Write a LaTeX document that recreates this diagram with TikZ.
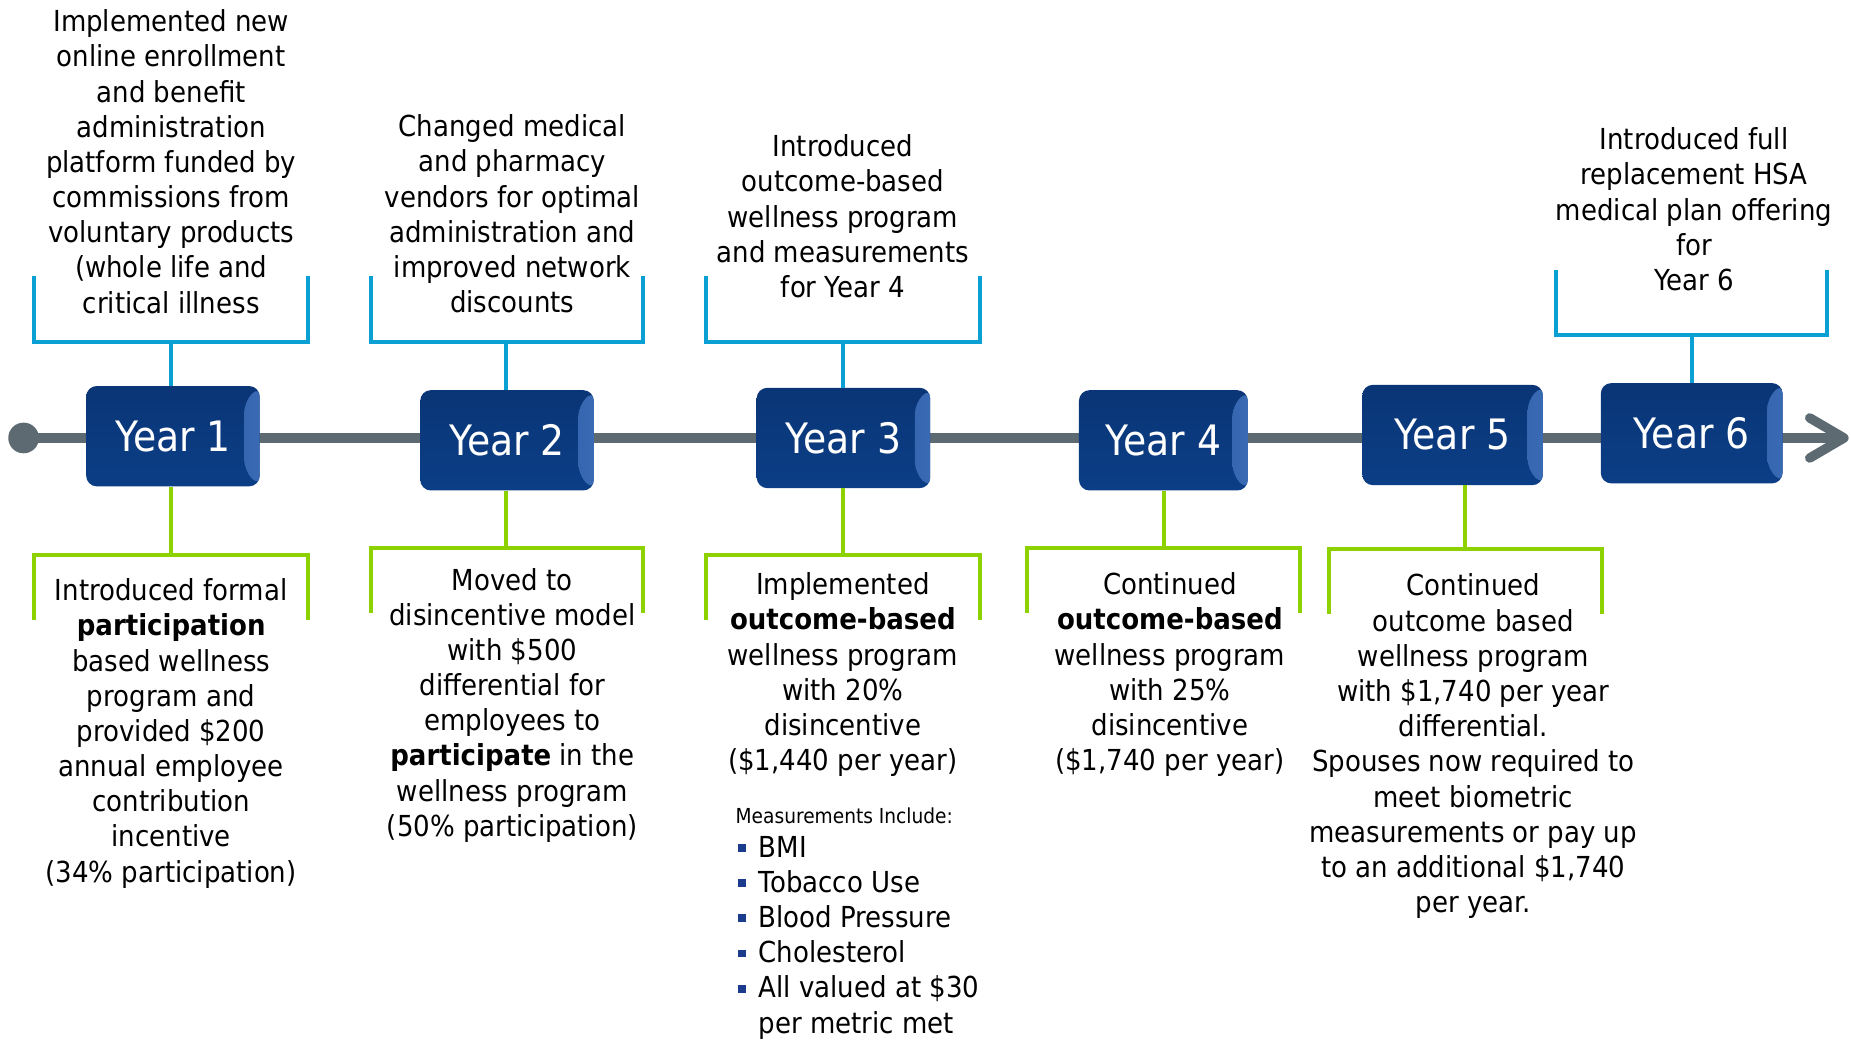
\documentclass[tikz,border=0pt]{standalone}
\usepackage{fontspec}
\setmainfont{DejaVu Sans}[FakeStretch=0.9]
\usetikzlibrary{calc}
\definecolor{navy}{HTML}{0A3A80}
\definecolor{navytop}{HTML}{0A3576}
\definecolor{navybot}{HTML}{0B3E86}
\definecolor{bevel}{HTML}{3A6AB4}
\definecolor{tlgray}{HTML}{5E6A72}
\definecolor{bblue}{HTML}{0AA0D4}
\definecolor{bgreen}{HTML}{8DD100}
\definecolor{bullet}{HTML}{1B3C8C}
\newcommand{\sqb}{{\color{bullet}\rule[4.5pt]{6.5pt}{6.5pt}}\hspace{11pt}}
\begin{document}
\begin{tikzpicture}[x=1pt,y=-1pt,
  yearbox/.style={rounded corners=9pt, minimum width=147pt, minimum height=85pt,
    top color=navytop, bottom color=navybot, text=white, inner sep=0pt,
    font=\fontsize{35.5}{40}\selectfont,
    path picture={\shade[left color=navybot, right color=bevel]
      (path picture bounding box.north east) -- ++(-13pt,-13pt)
      -- ($(path picture bounding box.south east)+(-13pt,13pt)$)
      -- (path picture bounding box.south east) -- cycle;}},
  txt/.style={font=\fontsize{24.5}{29.8}\selectfont, align=center, inner sep=0pt, anchor=north},
  bbr/.style={draw=bblue, line width=3.3pt},
  gbr/.style={draw=bgreen, line width=3.3pt},
  tl/.style={draw=tlgray, line width=8.5pt},
  chev/.style={draw=tlgray, line width=8pt, line cap=round, line join=round}]
\useasboundingbox (0,0) rectangle (1568,883);

% timeline
\node[circle, fill=tlgray, minimum size=26pt, inner sep=0pt] (dot) at (20,371) {};
\coordinate (tip) at (1562,371);
\draw[tl] (dot.center) -- ($(tip)+(-4,0)$);
\draw[chev] ($(tip)+(-29,-17)$) -- (tip) -- ($(tip)+(-29,17)$);

% bracket stem coordinates
\coordinate (b1) at (145,290);
\coordinate (b2) at (429,290);
\coordinate (b3) at (714,290);
\coordinate (b6) at (1433,284);
\coordinate (g1) at (145,470);
\coordinate (g2) at (429,464);
\coordinate (g3) at (714,470);
\coordinate (g4) at (986,464);
\coordinate (g5) at (1241,465);

% year boxes
\node[yearbox] (y1) at (146.5,369.5) {Year 1};
\node[yearbox] (y2) at (429.5,373) {Year 2};
\node[yearbox] (y3) at (714.5,371) {Year 3};
\node[yearbox, minimum width=143pt] (y4) at (985.5,373) {Year 4};
\node[yearbox, minimum width=153pt] (y5) at (1230.5,368.5) {Year 5};
\node[yearbox, minimum width=154pt] (y6) at (1433,367) {Year 6};

% blue brackets (top)
\draw[bbr] (29,234) |- (261,290) -- (261,234);
\draw[bbr] (b1) -- (b1 |- y1.north);
\draw[bbr] (314,234) |- (545,290) -- (545,234);
\draw[bbr] (b2) -- (b2 |- y2.north);
\draw[bbr] (598,234) |- (830,290) -- (830,234);
\draw[bbr] (b3) -- (b3 |- y3.north);
\draw[bbr] (1318,229) |- (1548,284) -- (1548,229);
\draw[bbr] (b6) -- (b6 |- y6.north);

% green brackets (bottom)
\draw[gbr] (29,525) |- (261,470) -- (261,525);
\draw[gbr] (g1) -- (g1 |- y1.south);
\draw[gbr] (314,519) |- (545,464) -- (545,519);
\draw[gbr] (g2) -- (g2 |- y2.south);
\draw[gbr] (598,525) |- (830,470) -- (830,525);
\draw[gbr] (g3) -- (g3 |- y3.south);
\draw[gbr] (870,519) |- (1101,464) -- (1101,519);
\draw[gbr] (g4) -- (g4 |- y4.south);
\draw[gbr] (1126,520) |- (1357,465) -- (1357,520);
\draw[gbr] (g5) -- (g5 |- y5.south);

% top texts
\node[txt] (t1) at (145,8) {Implemented new\\online enrollment\\and benefit\\administration\\platform funded by\\commissions from\\voluntary products\\(whole life and\\critical illness};
\node[txt] (t2) at (434,97) {Changed medical\\and pharmacy\\vendors for optimal\\administration and\\improved network\\discounts};
\node[txt] (t3) at (714,114) {Introduced\\outcome-based\\wellness program\\and measurements\\for Year 4};
\node[txt] (t6) at (1435,108) {Introduced full\\replacement HSA\\medical plan offering\\for\\Year 6};

% bottom texts
\node[txt] (d1) at (145,490) {Introduced formal\\\textbf{participation}\\based wellness\\program and\\provided \$200\\annual employee\\contribution\\incentive\\(34\% participation)};
\node[txt] (d2) at (434,481) {Moved to\\disincentive model\\with \$500\\differential for\\employees to\\\textbf{participate} in the\\wellness program\\(50\% participation)};
\node[txt] (d3) at (714,485) {Implemented\\\textbf{outcome-based}\\wellness program\\with 20\%\\disincentive\\(\$1,440 per year)};
\node[txt] (d4) at (991,485) {Continued\\\textbf{outcome-based}\\wellness program\\with 25\%\\disincentive\\(\$1,740 per year)};
\node[txt] (d5) at (1248,486) {Continued\\outcome based\\wellness program\\with \$1,740 per year\\differential.\\Spouses now required to\\meet biometric\\measurements or pay up\\to an additional \$1,740\\per year.};

% measurements list
\node[txt, anchor=north west, font=\fontsize{17.5}{21}\selectfont] (mh) at (623,684) {Measurements Include:};
\node[txt, anchor=north west, align=left] (ml) at (625,708) {\sqb BMI\\\sqb Tobacco Use\\\sqb Blood Pressure\\\sqb Cholesterol\\\sqb All valued at \$30\\\hphantom{\sqb}per metric met};
\end{tikzpicture}
\end{document}
